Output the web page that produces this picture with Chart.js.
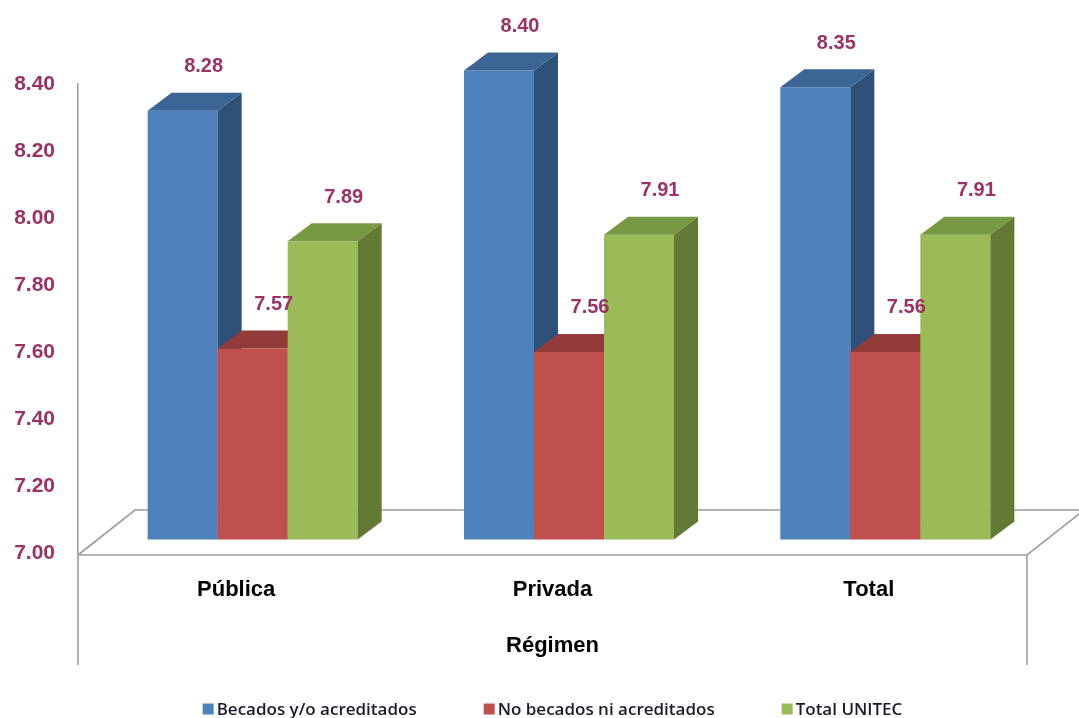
<!DOCTYPE html>
<html>
<head>
<meta charset="utf-8">
<title>Promedio por régimen</title>
<script src="https://cdn.jsdelivr.net/npm/chart.js@4/dist/chart.umd.min.js"></script>
<style>
    body { margin: 0; background: #ffffff; }
    #chartCanvas { display: block; }
</style>
</head>
<body>
<canvas id="chartCanvas" width="1079" height="718"></canvas>
<script>
const categories = ["Pública", "Privada", "Total"];
const seriesNames = ["Becados y/o acreditados", "No becados ni acreditados", "Total UNITEC"];
const becados = [8.28, 8.40, 8.35];
const noBecados = [7.57, 7.56, 7.56];
const totalUnitec = [7.89, 7.91, 7.91];
const yTicks = [7.00, 7.20, 7.40, 7.60, 7.80, 8.00, 8.20, 8.40];

// front / top / side colours for each series
const faceColors = [
    { front: '#4f81bd', top: '#3c6596', side: '#2f5179' },
    { front: '#c0504d', top: '#933b39', side: '#873634' },
    { front: '#9bbb59', top: '#789944', side: '#637a36' }
];

const labelColor = '#993366';
const lineColor = '#9c9c9c';

// depth of the floor and of each bar (px)
const floorDepth = { dx: 57, dy: -45 };
const barDepth = { dx: 24, dy: -18 };
const barShift = {
    dx: (floorDepth.dx - barDepth.dx) / 2,
    dy: (floorDepth.dy - barDepth.dy) / 2
};
const axisBoxHeight = 112;

const bars3d = {
    id: 'bars3d',
    beforeDatasetDraw() {
        return false;
    },
    beforeDatasetsDraw(chart) {
        const c = chart.ctx;
        const area = chart.chartArea;
        const x0 = area.left, x1 = area.right, y0 = area.bottom + 2;
        c.save();
        c.strokeStyle = lineColor;
        c.lineWidth = 1.6;
        // floor
        c.beginPath();
        c.moveTo(x0, y0);
        c.lineTo(x0 + floorDepth.dx, y0 + floorDepth.dy);
        c.lineTo(x1 + floorDepth.dx, y0 + floorDepth.dy);
        c.moveTo(x0, y0);
        c.lineTo(x1, y0);
        c.lineTo(x1 + floorDepth.dx, y0 + floorDepth.dy);
        // box round the category labels
        c.moveTo(x0, y0);
        c.lineTo(x0, area.bottom + axisBoxHeight);
        c.moveTo(x1, y0);
        c.lineTo(x1, area.bottom + axisBoxHeight);
        c.stroke();
        c.restore();
    },
    afterDatasetsDraw(chart) {
        const c = chart.ctx;
        const yScale = chart.scales.y;
        const basePx = yScale.getPixelForValue(yScale.min);
        const metas = chart.data.datasets.map((d, i) => chart.getDatasetMeta(i));
        c.save();
        for (let j = 0; j < categories.length; j++) {
            for (let i = 0; i < metas.length; i++) {
                const el = metas[i].data[j];
                const col = faceColors[i];
                const left = el.x - el.width / 2 + barShift.dx;
                const right = left + el.width;
                const top = el.y + barShift.dy;
                const bottom = basePx + barShift.dy;
                const dx = barDepth.dx, dy = barDepth.dy;

                c.fillStyle = col.front;
                c.fillRect(left, top, el.width, bottom - top);

                c.fillStyle = col.top;
                c.beginPath();
                c.moveTo(left, top);
                c.lineTo(left + dx, top + dy);
                c.lineTo(right + dx, top + dy);
                c.lineTo(right, top);
                c.closePath();
                c.fill();

                c.fillStyle = col.side;
                c.beginPath();
                c.moveTo(right, top);
                c.lineTo(right + dx, top + dy);
                c.lineTo(right + dx, bottom + dy);
                c.lineTo(right, bottom);
                c.closePath();
                c.fill();
            }
        }

        // value labels over each bar
        c.font = 'bold 20px "Liberation Sans", Arial, sans-serif';
        c.fillStyle = labelColor;
        c.textAlign = 'center';
        c.textBaseline = 'middle';
        for (let i = 0; i < metas.length; i++) {
            const values = chart.data.datasets[i].data;
            metas[i].data.forEach((el, j) => {
                const x = el.x + barShift.dx + barDepth.dx - 3;
                const y = el.y + barShift.dy + barDepth.dy - 26;
                c.fillText(values[j].toFixed(2), x, y);
            });
        }
        c.restore();
    }
};

const legendBottom = {
    id: 'legendBottom',
    afterDraw(chart) {
        const c = chart.ctx;
        const box = 11, gap = 3, spacing = 67;
        const y = 709;
        c.save();
        c.font = '600 17px "Open Sans", sans-serif';
        c.textBaseline = 'middle';
        c.textAlign = 'left';
        const widths = chart.data.datasets.map(d => box + gap + c.measureText(d.label).width);
        const total = widths.reduce((a, b) => a + b, 0) + spacing * (widths.length - 1);
        let x = (chart.chartArea.left + chart.chartArea.right) / 2 - total / 2;
        chart.data.datasets.forEach((d, i) => {
            c.fillStyle = faceColors[i].front;
            c.fillRect(x, y - box / 2, box, box);
            c.fillStyle = '#1b1b2b';
            c.fillText(d.label, x + box + gap, y + 1);
            x += widths[i] + spacing;
        });
        c.restore();
    }
};

var ctx = document.getElementById('chartCanvas').getContext('2d');
var chart = new Chart(ctx, {
    type: 'bar',
    data: {
        labels: categories,
        datasets: [
            { label: seriesNames[0], data: becados, backgroundColor: faceColors[0].front },
            { label: seriesNames[1], data: noBecados, backgroundColor: faceColors[1].front },
            { label: seriesNames[2], data: totalUnitec, backgroundColor: faceColors[2].front }
        ]
    },
    options: {
        responsive: false,
        animation: false,
        devicePixelRatio: 1,
        categoryPercentage: 0.664,
        barPercentage: 1.0,
        layout: {
            padding: { left: 14, right: 52, top: 84, bottom: 53 }
        },
        plugins: {
            legend: { display: false },
            tooltip: { enabled: false }
        },
        scales: {
            x: {
                grid: { display: false, drawTicks: false },
                border: { display: false },
                ticks: {
                    padding: 24,
                    color: '#000000',
                    font: { family: '"Liberation Sans", Arial, sans-serif', size: 22, weight: 'bold' }
                },
                title: {
                    display: true,
                    text: 'Régimen',
                    color: '#000000',
                    padding: { top: 0, bottom: 6 },
                    font: { family: '"Liberation Sans", Arial, sans-serif', size: 22, weight: 'bold' }
                },
                afterFit(scale) {
                    scale.height = axisBoxHeight;
                }
            },
            y: {
                min: 7.0,
                max: 8.4,
                afterBuildTicks(scale) {
                    scale.ticks = yTicks.map(v => ({ value: v }));
                },
                grid: { display: false, drawTicks: false },
                border: { display: true, color: lineColor, width: 1.6 },
                ticks: {
                    padding: 23,
                    color: labelColor,
                    font: { family: '"Liberation Sans", Arial, sans-serif', size: 21, weight: 'bold' },
                    callback: v => v.toFixed(2)
                },
                afterFit(scale) {
                    scale.width = 64;
                }
            }
        }
    },
    plugins: [bars3d, legendBottom]
});
</script>
</body>
</html>
